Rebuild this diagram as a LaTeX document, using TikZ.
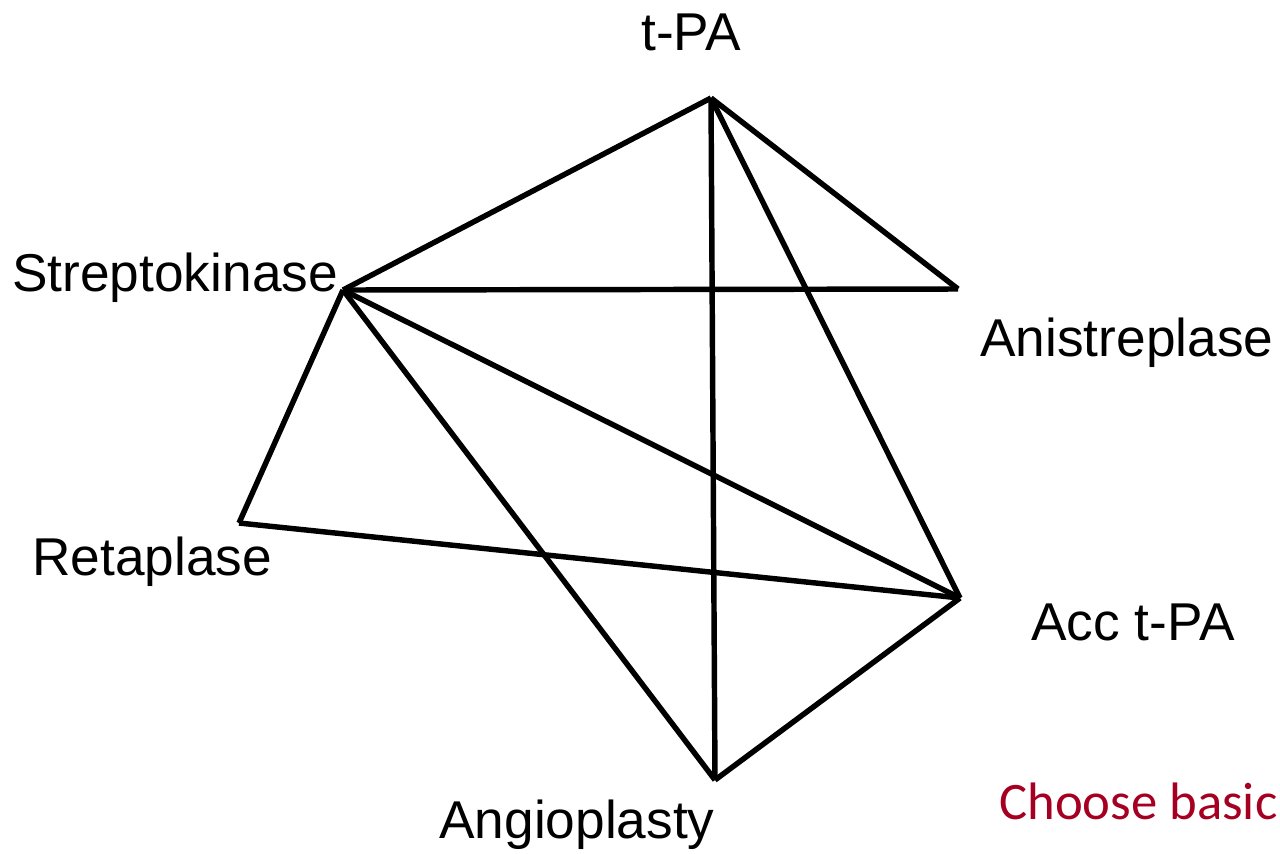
\documentclass[tikz,border=0pt]{standalone}
\usepackage{fontspec}
\setmainfont{Liberation Sans}
\newfontfamily\calib{Carlito}
\definecolor{chooseRed}{RGB}{165,0,33}
\begin{document}
\begin{tikzpicture}[x=0.02cm,y=-0.02cm,
  lbl/.style={anchor=base west,inner sep=0pt,font=\fontsize{30.3}{36}\selectfont},
  note/.style={anchor=base west,inner sep=0pt,text=chooseRed,font=\calib\fontsize{30}{36}\selectfont},
  edge/.style={line width=3.1pt,line cap=butt,draw=black}]
\useasboundingbox (0,0) rectangle (1280,853);
\clip (0,0) rectangle (1280,853);
% vertices
\coordinate (tpa) at (711,98);
\coordinate (strep) at (343,290);
\coordinate (anist) at (958,289);
\coordinate (reta) at (239,523);
\coordinate (acc) at (960,598);
\coordinate (angio) at (715,780);
% labels
\node[lbl] (ltpa) at (641,50) {t-PA};
\node[lbl] (lstrep) at (12,291) {Streptokinase};
\node[lbl] (lanist) at (980,356) {Anistreplase};
\node[lbl] (lreta) at (32,575) {Retaplase};
\node[lbl] (lacc) at (1031,640) {Acc t-PA};
\node[lbl] (langio) at (439,838) {Angioplasty};
\node[note] (lnote) at (999,819) {Choose basic};
% edges
\draw[edge] (tpa) -- (strep);
\draw[edge] (tpa) -- (anist);
\draw[edge] (tpa) -- (angio);
\draw[edge] (tpa) -- (acc);
\draw[edge] (strep) -- (anist);
\draw[edge] (strep) -- (acc);
\draw[edge] (strep) -- (angio);
\draw[edge] (strep) -- (reta);
\draw[edge] (reta) -- (acc);
\draw[edge] (acc) -- (angio);
\end{tikzpicture}
\end{document}
